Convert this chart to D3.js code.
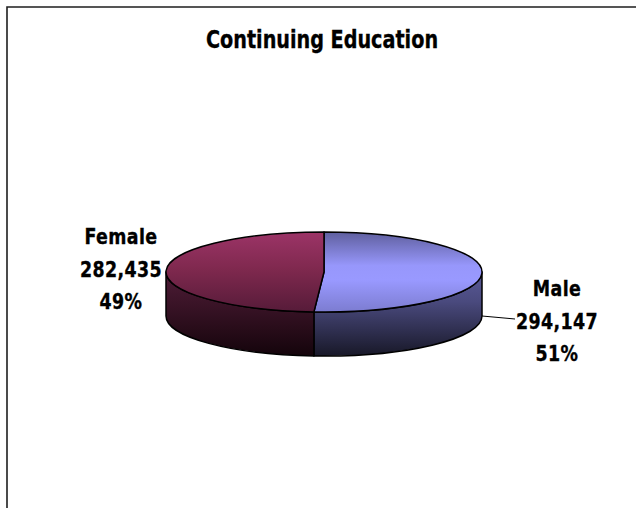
<!DOCTYPE html>
<html>
<head>
<meta charset="utf-8">
<script src="https://cdn.jsdelivr.net/npm/d3@7"></script>
<style>
  html, body { margin: 0; padding: 0; background: #fff; }
  svg { display: block; }
  text { font-family: "DejaVu Sans", sans-serif; font-weight: bold; fill: #000; stroke: #000; stroke-width: 0.35px; }
</style>
</head>
<body>
<script>
// Enrolment by gender
const categories = ["Male", "Female"];
const values = [294147, 282435];
const chartTitle = "Continuing Education";

const W = 636, H = 508;
const svg = d3.select("body").append("svg").attr("width", W).attr("height", H);

// chart frame (open on the right and bottom edges of the page)
svg.append("path")
  .attr("d", `M7,${H} V7 H${W}`)
  .attr("fill", "none").attr("stroke", "#1e1e1e").attr("stroke-width", 1.6);

// narrow bold type: the bold face squeezed horizontally
function narrowText(x, y, size, sx) {
  return svg.append("g")
    .attr("transform", `translate(${x},${y}) scale(${sx},1)`)
    .append("text")
    .attr("text-anchor", "middle")
    .style("font-size", size + "px");
}

narrowText(322, 48, 24, 0.80).text(chartTitle);

// 3-D pie geometry
const cx = 324, cy = 272, rx = 158, ry = 40, depth = 44;
const total = d3.sum(values);
const pie = d3.pie().sort(null).value(d => d)(values);

const pt = (a, dy = 0) => [cx + rx * Math.sin(a), cy - ry * Math.cos(a) + dy];

const defs = svg.append("defs");
function grad(id, y0, y1, stops) {
  const g = defs.append("linearGradient").attr("id", id)
    .attr("gradientUnits", "userSpaceOnUse")
    .attr("x1", 0).attr("x2", 0).attr("y1", y0).attr("y2", y1);
  stops.forEach(([o, c]) => g.append("stop").attr("offset", o).attr("stop-color", c));
}
grad("topMale", cy - ry, cy + ry, [[0, "#5f5f9e"], [0.42, "#9797fb"], [0.6, "#9999ff"], [1, "#7c7cd0"]]);
grad("sideMale", cy, cy + ry + depth, [[0, "#5a5a98"], [0.35, "#4a4a7e"], [1, "#181828"]]);
grad("topFemale", cy - ry, cy + ry, [[0, "#9c3467"], [0.45, "#80294f"], [1, "#561b39"]]);
grad("sideFemale", cy, cy + ry + depth, [[0, "#4e1c37"], [0.4, "#391326"], [1, "#14040b"]]);

const topFill = ["url(#topMale)", "url(#topFemale)"];
const sideFill = ["url(#sideMale)", "url(#sideFemale)"];

// visible outer walls: the front half of the ellipse (90°..270°)
const sides = svg.append("g");
pie.forEach((s, i) => {
  const a0 = Math.max(s.startAngle, Math.PI / 2);
  const a1 = Math.min(s.endAngle, 3 * Math.PI / 2);
  if (a1 <= a0) return;
  const large = a1 - a0 > Math.PI ? 1 : 0;
  const p0 = pt(a0), p1 = pt(a1), q1 = pt(a1, depth), q0 = pt(a0, depth);
  sides.append("path")
    .attr("d", `M${p0} A${rx},${ry} 0 ${large} 1 ${p1} L${q1} A${rx},${ry} 0 ${large} 0 ${q0} Z`)
    .attr("fill", sideFill[i])
    .attr("stroke", "#000").attr("stroke-width", 1.5).attr("stroke-linejoin", "round");
});

// top faces
const tops = svg.append("g");
pie.forEach((s, i) => {
  const large = s.endAngle - s.startAngle > Math.PI ? 1 : 0;
  const p0 = pt(s.startAngle), p1 = pt(s.endAngle);
  tops.append("path")
    .attr("d", `M${cx},${cy} L${p0} A${rx},${ry} 0 ${large} 1 ${p1} Z`)
    .attr("fill", topFill[i])
    .attr("stroke", "#000").attr("stroke-width", 1.5).attr("stroke-linejoin", "round");
});

// data labels
const fmt = d3.format(",");
const pct = v => Math.round(v / total * 100) + "%";
const labelPos = [
  { x: 557, y: 296 },   // Male, right of the pie
  { x: 121, y: 244 }    // Female, left of the pie
];
const lineGap = 32.5;
pie.forEach((s, i) => {
  const lines = [categories[i], fmt(values[i]), pct(values[i])];
  lines.forEach((line, k) => {
    narrowText(labelPos[i].x, labelPos[i].y + k * lineGap, 21, 0.83)
      .style("letter-spacing", "0.5px")
      .text(line);
  });
});

// leader line for the Male label
svg.append("path")
  .attr("d", `M${cx + rx},${cy + depth} L${cx + rx + 33},${cy + depth + 3}`)
  .attr("fill", "none").attr("stroke", "#000").attr("stroke-width", 1);
</script>
</body>
</html>
